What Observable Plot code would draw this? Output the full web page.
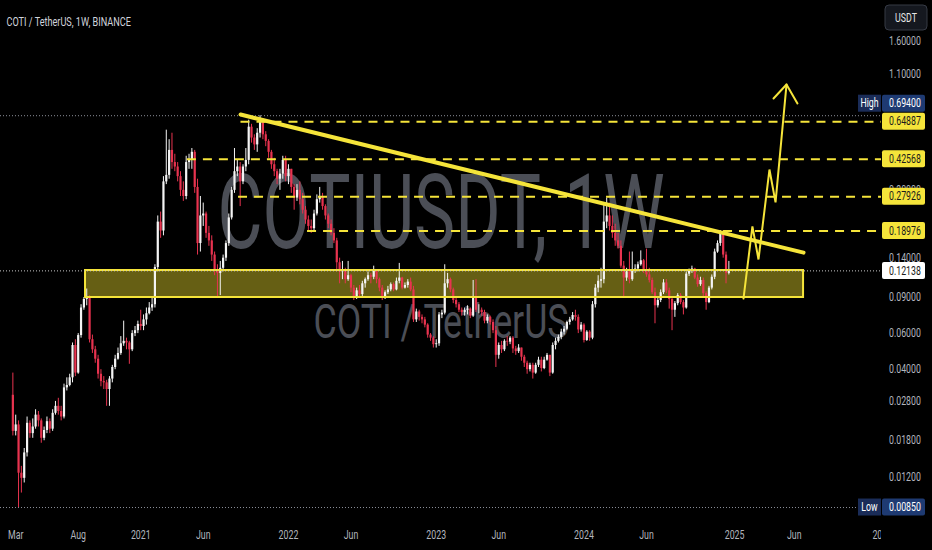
<!DOCTYPE html>
<html><head><meta charset="utf-8">
<script src="https://cdn.jsdelivr.net/npm/d3@7"></script>
<script src="https://cdn.jsdelivr.net/npm/@observablehq/plot@0.6"></script>
<style>
html,body{margin:0;padding:0;background:#000;}
#chart{width:932px;height:550px;overflow:hidden;}
</style></head><body><div id="chart"></div>
<script>
// ---------- data ----------
const startWeek = "2020-02-24";
const firstOpen = 0.0300;
const closes = [
0.0200,0.0215,0.0125,0.0118,0.0157,0.0219,0.0195,0.0210,0.0240,0.0225,
0.0185,0.0202,0.0223,0.0205,0.0245,0.0265,0.0250,0.0235,0.0326,0.0335,
0.0365,0.0525,0.0385,0.0587,0.0800,0.0880,0.0900,0.0560,0.0500,0.0450,
0.0380,0.0350,0.0345,0.0320,0.0360,0.0410,0.0450,0.0480,0.0535,0.0550,
0.0540,0.0500,0.0600,0.0620,0.0665,0.0650,0.0700,0.0750,0.080,0.083,
0.126,0.210,0.190,0.330,0.355,0.470,0.410,0.390,0.350,0.300,
0.280,0.410,0.420,0.460,0.310,0.165,0.225,0.230,0.185,0.170,
0.145,0.122,0.118,0.125,0.140,0.165,0.220,0.300,0.370,0.390,
0.330,0.390,0.420,0.610,0.540,0.500,0.570,0.650,0.560,0.520,
0.460,0.400,0.370,0.340,0.360,0.420,0.350,0.380,0.310,0.275,
0.300,0.270,0.240,0.215,0.200,0.195,0.230,0.270,0.280,0.250,
0.225,0.205,0.185,0.170,0.133,0.120,0.122,0.110,0.115,0.100,
0.090,0.097,0.093,0.105,0.110,0.115,0.113,0.122,0.110,0.100,
0.090,0.095,0.098,0.104,0.098,0.108,0.112,0.100,0.103,0.107,
0.098,0.070,0.0765,0.072,0.070,0.066,0.059,0.057,0.053,0.0535,
0.0740,0.0755,0.105,0.110,0.098,0.087,0.083,0.078,0.076,0.078,
0.079,0.073,0.090,0.078,0.078,0.076,0.069,0.072,0.068,0.062,
0.047,0.0525,0.050,0.055,0.0545,0.057,0.0505,0.049,0.051,0.046,
0.043,0.040,0.042,0.0385,0.042,0.0445,0.0405,0.0445,0.047,0.0385,
0.0525,0.055,0.0575,0.061,0.063,0.068,0.070,0.0735,0.072,0.0625,
0.066,0.0555,0.061,0.057,0.083,0.100,0.108,0.110,0.210,0.225,
0.200,0.185,0.170,0.160,0.128,0.112,0.120,0.110,0.122,0.124,
0.130,0.136,0.122,0.116,0.109,0.095,0.082,0.087,0.095,0.106,
0.097,0.088,0.078,0.084,0.092,0.085,0.080,0.117,0.121,0.124,
0.112,0.104,0.109,0.094,0.085,0.100,0.113,0.150,0.165,0.183,
0.145,0.118,0.12138];
const highs = [
0.0385,0.0240,0.0225,0.0135,0.0165,0.0235,0.0225,0.0230,0.0255,0.0250,
0.0230,0.0210,0.0235,0.0230,0.0255,0.0280,0.0290,0.0265,0.0340,0.0365,
0.0380,0.0540,0.0560,0.0600,0.0830,0.0900,0.0990,0.0920,0.0590,0.0520,
0.0470,0.0400,0.0370,0.0355,0.0370,0.0420,0.0470,0.0510,0.0580,0.0690,
0.0570,0.0550,0.0620,0.0650,0.0690,0.0780,0.0740,0.0800,0.085,0.090,
0.130,0.225,0.235,0.350,0.590,0.530,0.570,0.450,0.410,0.370,
0.330,0.440,0.450,0.480,0.470,0.340,0.280,0.260,0.235,0.200,
0.180,0.150,0.130,0.135,0.145,0.170,0.230,0.310,0.480,0.420,
0.410,0.400,0.480,0.660,0.630,0.560,0.600,0.694,0.670,0.580,
0.530,0.470,0.430,0.380,0.380,0.440,0.440,0.400,0.380,0.320,
0.320,0.330,0.290,0.250,0.225,0.215,0.240,0.285,0.310,0.290,
0.255,0.230,0.215,0.195,0.175,0.140,0.135,0.125,0.135,0.117,
0.103,0.100,0.103,0.108,0.112,0.120,0.118,0.128,0.123,0.112,
0.103,0.097,0.102,0.106,0.106,0.112,0.132,0.113,0.106,0.110,
0.112,0.102,0.079,0.078,0.074,0.072,0.067,0.060,0.058,0.056,
0.076,0.078,0.130,0.118,0.112,0.100,0.090,0.085,0.080,0.080,
0.082,0.080,0.109,0.110,0.083,0.080,0.078,0.074,0.073,0.070,
0.065,0.054,0.055,0.056,0.058,0.058,0.058,0.052,0.053,0.051,
0.047,0.044,0.043,0.043,0.043,0.046,0.046,0.046,0.048,0.047,
0.054,0.057,0.059,0.063,0.065,0.069,0.072,0.076,0.078,0.074,
0.068,0.067,0.062,0.062,0.086,0.104,0.115,0.125,0.260,0.275,
0.260,0.225,0.205,0.185,0.170,0.135,0.125,0.150,0.150,0.130,
0.134,0.152,0.138,0.155,0.125,0.112,0.100,0.089,0.098,0.110,
0.110,0.100,0.090,0.086,0.094,0.094,0.087,0.120,0.124,0.128,
0.125,0.116,0.113,0.112,0.096,0.102,0.116,0.155,0.170,0.191,
0.190,0.150,0.135];
const lows = [
0.0190,0.0190,0.0085,0.0100,0.0112,0.0150,0.0185,0.0185,0.0205,0.0210,
0.0175,0.0180,0.0195,0.0195,0.0200,0.0240,0.0240,0.0225,0.0230,0.0315,
0.0330,0.0345,0.0370,0.0380,0.0570,0.0780,0.0820,0.0540,0.0480,0.0430,
0.0360,0.0330,0.0320,0.0265,0.0265,0.0345,0.0400,0.0445,0.0470,0.0520,
0.0500,0.0425,0.0490,0.0580,0.0600,0.0620,0.0620,0.0660,0.074,0.077,
0.080,0.120,0.175,0.180,0.320,0.340,0.380,0.370,0.330,0.280,
0.265,0.270,0.380,0.380,0.290,0.145,0.150,0.200,0.175,0.160,
0.135,0.115,0.090,0.092,0.120,0.135,0.160,0.215,0.290,0.350,
0.250,0.320,0.370,0.400,0.510,0.470,0.460,0.540,0.530,0.490,
0.430,0.380,0.350,0.320,0.300,0.340,0.330,0.320,0.290,0.240,
0.265,0.255,0.230,0.205,0.190,0.185,0.190,0.225,0.260,0.240,
0.215,0.195,0.180,0.165,0.120,0.105,0.110,0.105,0.108,0.095,
0.087,0.088,0.090,0.090,0.100,0.108,0.105,0.110,0.105,0.096,
0.087,0.088,0.093,0.096,0.096,0.097,0.105,0.098,0.099,0.100,
0.096,0.068,0.068,0.069,0.067,0.064,0.057,0.055,0.051,0.051,
0.052,0.071,0.074,0.100,0.095,0.084,0.080,0.076,0.073,0.073,
0.074,0.071,0.072,0.076,0.075,0.073,0.067,0.067,0.066,0.060,
0.041,0.045,0.048,0.049,0.052,0.053,0.048,0.047,0.048,0.044,
0.041,0.038,0.039,0.036,0.038,0.041,0.039,0.040,0.044,0.037,
0.038,0.050,0.054,0.056,0.059,0.062,0.066,0.069,0.069,0.060,
0.061,0.054,0.055,0.055,0.056,0.080,0.095,0.100,0.105,0.195,
0.190,0.175,0.160,0.155,0.125,0.090,0.108,0.105,0.108,0.118,
0.120,0.128,0.118,0.113,0.106,0.093,0.067,0.080,0.085,0.093,
0.094,0.079,0.062,0.072,0.082,0.083,0.074,0.079,0.114,0.118,
0.110,0.101,0.102,0.090,0.078,0.084,0.098,0.110,0.148,0.160,
0.140,0.105,0.116];

const xTickDates  = ["2020-03-02","2020-08-03","2021-01-04","2021-06-07","2022-01-03","2022-06-06","2023-01-02","2023-06-05","2024-01-01","2024-06-03","2025-01-06","2025-06-02","2026-01-05"];
const xTickLabels = ["Mar","Aug","2021","Jun","2022","Jun","2023","Jun","2024","Jun","2025","Jun","2026"];
const yTickValues = [1.6, 1.1, 0.30, 0.14, 0.09, 0.06, 0.04, 0.028, 0.018, 0.012];

const levelValues = [0.64887, 0.42568, 0.27926, 0.18976];
const levelStarts = ["2021-09-08", "2021-04-29", "2021-09-02", "2022-02-19"];

const boxValues = [0.694, 0.64887, 0.42568, 0.27926, 0.18976, 0.12138, 0.0085];
const boxTags   = ["High", "", "", "", "", "", "Low"];
const boxKinds  = ["extreme", "level", "level", "level", "level", "last", "extreme"];

const highPrice = 0.694, lowPrice = 0.0085, lastPrice = 0.12138;

const zoneDates  = ["2020-08-21", "2025-06-25"];
const zonePrices = [0.09, 0.1219];

const trendDates  = ["2021-09-07", "2025-06-25"];
const trendPrices = [0.703, 0.149];

const pathDates  = ["2025-01-28","2025-02-19","2025-03-06","2025-04-02","2025-04-17","2025-05-14"];
const pathPrices = [0.089, 0.200, 0.138, 0.379, 0.262, 0.985];
const headDates  = ["2025-04-12","2025-05-14","2025-06-10"];
const headPrices = [0.842, 0.985, 0.797];

const titleText = "COTI / TetherUS, 1W, BINANCE";
const watermark1 = "COTIUSDT, 1W";
const watermark2 = "COTI / TetherUS";
const currencyText = "USDT";

// ---------- build tables ----------
const D = s => new Date(s + "T00:00:00Z");
const DAY = 864e5;
const t0 = D(startWeek);
const candles = closes.map((c, i) => {
  const o = i ? closes[i - 1] : firstOpen;
  return {date: new Date(+t0 + i * 7 * DAY), open: o, close: c,
          high: Math.max(highs[i], o, c), low: Math.min(lows[i], o, c)};
});
const upC = candles.filter(d => d.close >= d.open);
const dnC = candles.filter(d => d.close < d.open);
const levels = levelValues.map((v, i) => ({v, start: D(levelStarts[i])}));
const zone = [{x1: D(zoneDates[0]), x2: D(zoneDates[1]), y1: zonePrices[0], y2: zonePrices[1]}];
const trend = trendDates.map((d, i) => ({date: D(d), price: trendPrices[i]}));
const path = pathDates.map((d, i) => ({date: D(d), price: pathPrices[i]}));
const head = headDates.map((d, i) => ({date: D(d), price: headPrices[i]}));
const xLabelMap = new Map(xTickDates.map((d, i) => [+D(d), xTickLabels[i]]));

const FONT = "Roboto, 'Liberation Sans', sans-serif";
const UP = "#f4f4f4", DOWN = "#e8334f", YEL = "#f5e43a", AXIS = "#b2b5be";
const xDomainEnd = new Date("2026-01-03T01:00:00Z");

const styles = {
  extreme: {bg: "#1e3a72", tagBg: "#1a2c58", fg: "#ffffff"},
  level:   {bg: "#f5e43a", fg: "#1b1b1b"},
  last:    {bg: "#ffffff", fg: "#1b1b1b"}
};

function priceScale(index, scales, values, dims) {
  const y = scales.y;
  const x0 = dims.width - dims.marginRight;
  const g = d3.create("svg:g").attr("font-family", FONT).attr("font-size", 12).attr("text-anchor", "start");
  // gray tick labels
  for (const v of yTickValues) {
    g.append("text").attr("x", x0 + 8).attr("y", y(v)).attr("dy", "0.35em")
      .attr("text-anchor", "start").attr("fill", AXIS).text(v.toFixed(5));
  }
  // coloured price labels, pushed apart when they would collide
  const items = boxValues.map((v, i) => ({v, tag: boxTags[i], kind: boxKinds[i], y: y(v)}));
  items.sort((a, b) => b.y - a.y);
  for (let i = 1; i < items.length; i++) {
    if (items[i].y > items[i - 1].y - 18) items[i].y = items[i - 1].y - 18;
  }
  for (const it of items) {
    const st = styles[it.kind];
    g.append("rect").attr("x", x0 + 1).attr("y", it.y - 8.5).attr("width", 43).attr("height", 17)
      .attr("rx", 2).attr("fill", st.bg);
    g.append("text").attr("x", x0 + 8).attr("y", it.y).attr("dy", "0.35em")
      .attr("text-anchor", "start").attr("fill", st.fg).text(it.v.toFixed(5));
    if (it.tag) {
      g.append("rect").attr("x", x0 - 23).attr("y", it.y - 8.5).attr("width", 23).attr("height", 17)
        .attr("fill", st.tagBg);
      g.append("text").attr("x", x0 - 11.5).attr("y", it.y).attr("dy", "0.35em")
        .attr("text-anchor", "middle").attr("fill", st.fg).text(it.tag);
    }
  }
  // currency button
  g.append("rect").attr("x", x0 + 4).attr("y", 5).attr("width", 42).attr("height", 25).attr("rx", 4)
    .attr("fill", "#15181f").attr("stroke", "#363a45");
  g.append("text").attr("x", x0 + 25).attr("y", 17.5).attr("dy", "0.35em").attr("text-anchor", "middle")
    .attr("fill", "#e6e6e6").text(currencyText);
  return g.node();
}

function axisCover(index, scales, values, dims) {
  const x0 = dims.width - dims.marginRight;
  return d3.create("svg:rect").attr("x", x0).attr("y", dims.height - dims.marginBottom)
    .attr("width", dims.marginRight).attr("height", dims.marginBottom).attr("fill", "#000").node();
}

const svg = Plot.plot({
  width: 932, height: 550,
  marginTop: 0, marginBottom: 33, marginLeft: 0, marginRight: 51,
  style: {background: "#000", fontFamily: FONT, fontSize: "12px", color: AXIS},
  x: {type: "utc", domain: [new Date("2020-01-24T13:00:00Z"), xDomainEnd]},
  y: {type: "log", domain: [0.0075987, 2.5326], axis: null},
  marks: [
    Plot.text([watermark1], {text: d => d, frameAnchor: "middle", dy: -44, fontSize: 103, fill: "#4b4e56"}),
    Plot.text([watermark2], {text: d => d, frameAnchor: "middle", dy: 64, fontSize: 48, fill: "#4b4e56"}),
    Plot.rect(zone, {x1: "x1", x2: "x2", y1: "y1", y2: "y2", fill: "#e8d82e", fillOpacity: 0.44}),
    Plot.ruleX(upC, {x: "date", y1: "low", y2: "high", stroke: UP, strokeWidth: 1}),
    Plot.ruleX(dnC, {x: "date", y1: "low", y2: "high", stroke: DOWN, strokeWidth: 1}),
    Plot.ruleX(upC, {x: "date", y1: "open", y2: "close", stroke: UP, strokeWidth: 2.2}),
    Plot.ruleX(dnC, {x: "date", y1: "open", y2: "close", stroke: DOWN, strokeWidth: 2.2}),
    Plot.rect(zone, {x1: "x1", x2: "x2", y1: "y1", y2: "y2", fill: "none", stroke: YEL, strokeWidth: 2}),
    Plot.ruleY([highPrice, lowPrice], {stroke: "#8c8f99", strokeWidth: 1, strokeDasharray: "1,2"}),
    Plot.ruleY([lastPrice], {stroke: "#c8c8c8", strokeWidth: 1, strokeDasharray: "1,2"}),
    Plot.ruleY(levels, {y: "v", x1: "start", x2: () => xDomainEnd, stroke: YEL, strokeWidth: 2, strokeDasharray: "9,7"}),
    Plot.line(trend, {x: "date", y: "price", stroke: YEL, strokeWidth: 4, strokeLinecap: "round"}),
    Plot.line(path, {x: "date", y: "price", stroke: YEL, strokeWidth: 2, strokeLinejoin: "miter"}),
    Plot.line(head, {x: "date", y: "price", stroke: YEL, strokeWidth: 2}),
    Plot.text([titleText], {text: d => d, frameAnchor: "top-left", dx: 6, dy: 17, textAnchor: "start", fill: "#d1d4dc", fontSize: 12.5}),
    Plot.axisX({ticks: xTickDates.map(D), tickFormat: d => xLabelMap.get(+d), tickSize: 0, tickPadding: 13, color: AXIS, fontSize: 12, label: null}),
    axisCover,
    priceScale
  ]
});

document.getElementById("chart").append(svg);

// condense all text horizontally like the reference
const targets = new Map([[watermark1, 447], [watermark2, 255]]);
svg.querySelectorAll("text").forEach(t => {
  const len = t.getComputedTextLength();
  if (!len) return;
  const w = targets.has(t.textContent) ? targets.get(t.textContent) : len * 0.73;
  t.setAttribute("textLength", w);
  t.setAttribute("lengthAdjust", "spacingAndGlyphs");
});
</script>
</body></html>
